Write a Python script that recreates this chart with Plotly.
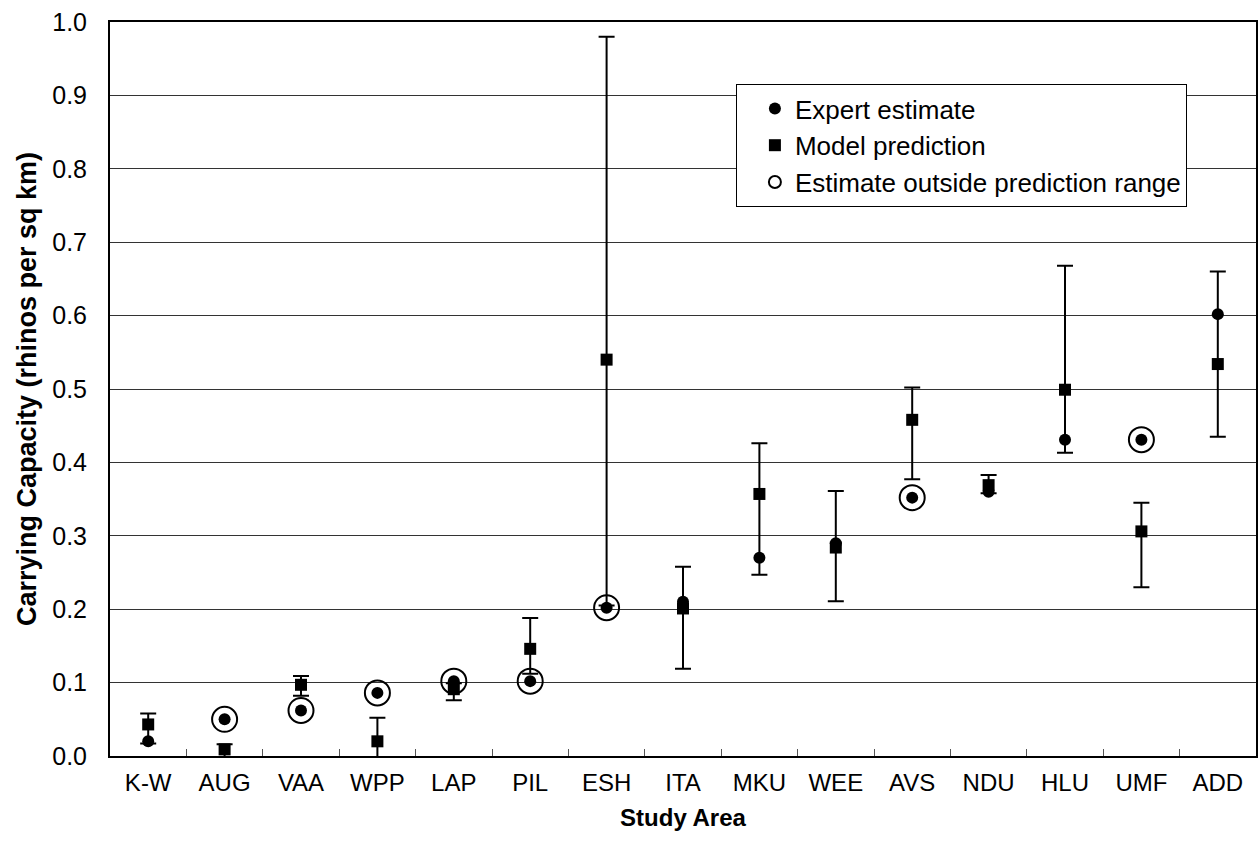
import plotly.graph_objects as go

areas = ["K-W", "AUG", "VAA", "WPP", "LAP", "PIL", "ESH", "ITA", "MKU", "WEE",
         "AVS", "NDU", "HLU", "UMF", "ADD"]
expert = [0.020, 0.050, 0.062, 0.086, 0.102, 0.102, 0.202, 0.210, 0.270, 0.290,
          0.352, 0.360, 0.431, 0.431, 0.602]
model = [0.043, 0.009, 0.097, 0.020, 0.091, 0.146, 0.540, 0.201, 0.357, 0.284,
         0.458, 0.369, 0.499, 0.306, 0.534]
upper = [0.058, 0.016, 0.109, 0.052, 0.099, 0.188, 0.980, 0.258, 0.426, 0.361,
         0.502, 0.383, 0.668, 0.345, 0.660]
lower = [0.017, -0.008, 0.082, -0.019, 0.076, 0.112, 0.205, 0.119, 0.247, 0.211,
         0.377, 0.358, 0.413, 0.230, 0.435]
outside = ["AUG", "VAA", "WPP", "LAP", "PIL", "ESH", "AVS", "UMF"]
y_ticks = [0.0, 0.1, 0.2, 0.3, 0.4, 0.5, 0.6, 0.7, 0.8, 0.9, 1.0]

FONT = "Liberation Sans, Arial, sans-serif"

err_plus = [u - m for u, m in zip(upper, model)]
err_minus = [m - l for m, l in zip(model, lower)]
out_y = [expert[areas.index(a)] for a in outside]

fig = go.Figure()

fig.add_trace(go.Scatter(
    x=areas, y=model, mode="markers", name="Model prediction",
    marker=dict(symbol="square", size=12, color="black"),
    error_y=dict(type="data", symmetric=False, array=err_plus, arrayminus=err_minus,
                 color="black", thickness=2, width=8),
    cliponaxis=False, legendrank=2,
))
fig.add_trace(go.Scatter(
    x=areas, y=expert, mode="markers", name="Expert estimate",
    marker=dict(symbol="circle", size=12, color="black"),
    cliponaxis=False, legendrank=1,
))
fig.add_trace(go.Scatter(
    x=outside, y=out_y, mode="markers", name="Estimate outside prediction range",
    marker=dict(symbol="circle-open", size=25, color="black", line=dict(width=2, color="black")),
    cliponaxis=False, legendrank=3,
))

fig.update_layout(
    width=1260, height=852,
    margin=dict(l=110, r=2, t=22, b=96),
    paper_bgcolor="white", plot_bgcolor="white",
    font=dict(family=FONT, size=24, color="black"),
    showlegend=True,
    legend=dict(
        x=(737 - 110) / 1148, y=(756 - 84) / 734, xanchor="left", yanchor="top",
        bordercolor="black", borderwidth=1, bgcolor="white",
        font=dict(family=FONT, size=26, color="black"),
        itemsizing="constant", indentation=18, entrywidth=440,
    ),
    xaxis=dict(
        type="category", categoryorder="array", categoryarray=areas,
        range=[-0.5, len(areas) - 0.5],
        showline=True, linecolor="black", linewidth=2, mirror=True,
        ticks="inside", tickson="boundaries", ticklen=7, tickcolor="#555555", tickwidth=1,
        showgrid=False, zeroline=False, ticklabelstandoff=4,
        tickfont=dict(family=FONT, size=24, color="black"),
        title=dict(text="<b>Study Area</b>", font=dict(family=FONT, size=24, color="black"),
                   standoff=14),
    ),
    yaxis=dict(
        range=[0, 1.0], tickvals=y_ticks, ticktext=[f"{v:.1f}" for v in y_ticks],
        showline=True, linecolor="black", linewidth=2, mirror=True,
        ticks="outside", ticklen=16, tickcolor="rgba(0,0,0,0)",
        showgrid=True, gridcolor="#333333", gridwidth=1, zeroline=False,
        tickfont=dict(family=FONT, size=25, color="black"),
        title=dict(text="<b>Carrying Capacity (rhinos per sq km)</b>",
                   font=dict(family=FONT, size=27, color="black"), standoff=8),
    ),
)

fig.write_html("out.html")
